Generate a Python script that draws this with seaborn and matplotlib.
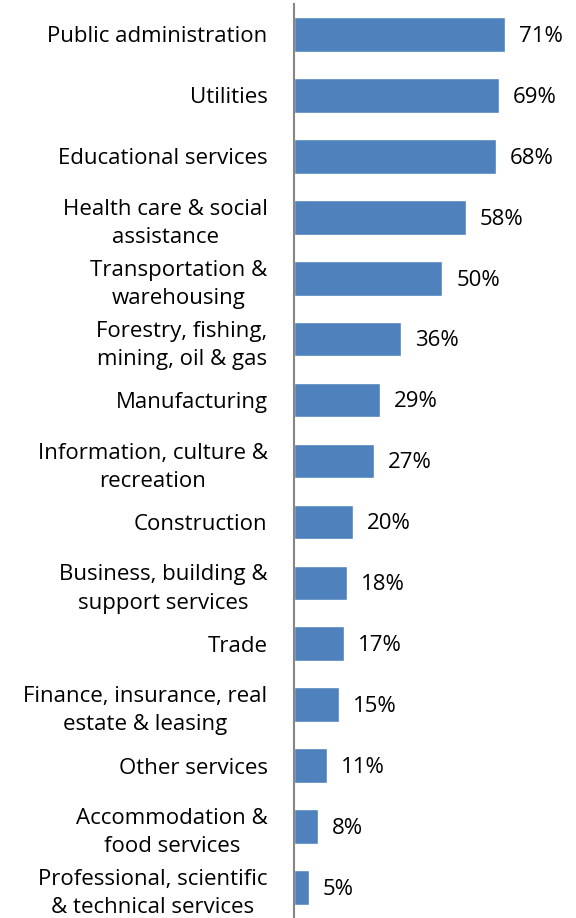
import matplotlib
matplotlib.use("Agg")
import matplotlib.pyplot as plt
import seaborn as sns
import pandas as pd

categories = [
    "Public administration",
    "Utilities",
    "Educational services",
    "Health care & social\nassistance",
    "Transportation &\nwarehousing",
    "Forestry, fishing,\nmining, oil & gas",
    "Manufacturing",
    "Information, culture &\nrecreation",
    "Construction",
    "Business, building &\nsupport services",
    "Trade",
    "Finance, insurance, real\nestate & leasing",
    "Other services",
    "Accommodation &\nfood services",
    "Professional, scientific\n& technical services",
]
values = [71, 69, 68, 58, 50, 36, 29, 27, 20, 18, 17, 15, 11, 8, 5]

df = pd.DataFrame({"industry": categories, "share": values})

sns.set_theme(style="white")
plt.rcParams["font.family"] = ["Open Sans", "DejaVu Sans"]

W, H, DPI = 576, 918, 100
fig = plt.figure(figsize=(W / DPI, H / DPI), dpi=DPI)
ax = fig.add_axes([294 / W, 0 / H, (576 - 294) / W, 914 / H])

sns.barplot(data=df, x="share", y="industry", color="#4F81BD", saturation=1,
            width=0.57, orient="h", ax=ax)

ax.set_xlim(0, 95)
ax.set_ylim(len(categories) - 0.5, -0.5)
ax.set_xlabel("")
ax.set_ylabel("")
ax.set_xticks([])
for s in ["top", "right", "bottom"]:
    ax.spines[s].set_visible(False)
ax.spines["left"].set_color("#868686")
ax.spines["left"].set_linewidth(1.5)

ax.tick_params(axis="y", length=0, pad=19, labelsize=16, labelcolor="#000000")
for lbl in ax.get_yticklabels():
    lbl.set_horizontalalignment("right")
    lbl.set_multialignment("center")
    lbl.set_linespacing(1.45)

for i, v in enumerate(values):
    ax.text(v + 4.7, i + 0.03, f"{v}%", va="center", ha="left", fontsize=16,
            color="#000000", clip_on=False)

fig.savefig("out.png", dpi=DPI)
